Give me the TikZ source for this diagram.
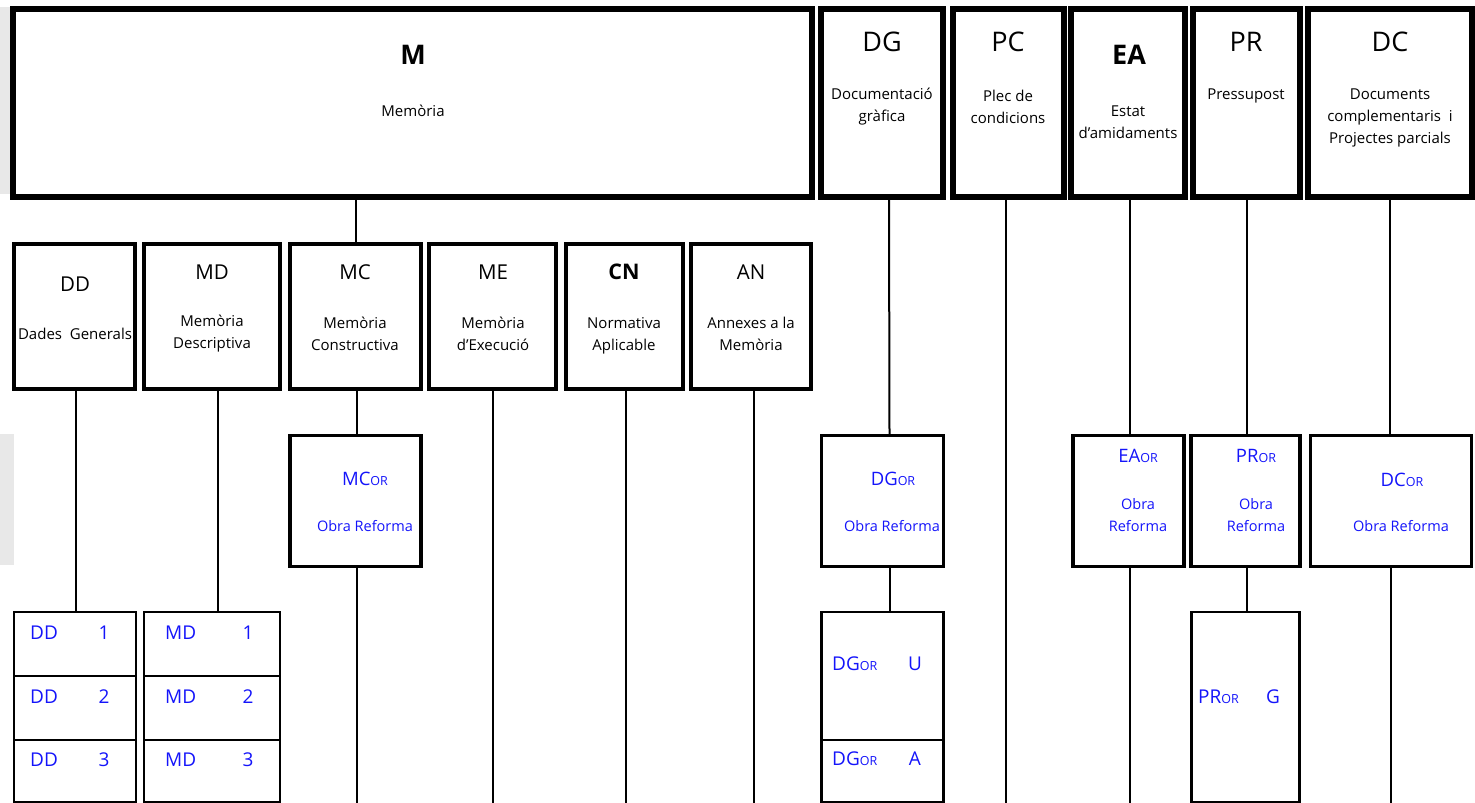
\documentclass[tikz,border=0pt]{standalone}
\usepackage{fontspec}
\setmainfont{Open Sans}
\definecolor{orblue}{RGB}{20,20,250}
\definecolor{sidegray}{RGB}{232,232,232}
\newcommand{\orsub}{{\fontsize{12.5}{13}\selectfont OR}}

\begin{document}
\begin{tikzpicture}[
    x=1pt, y=-1pt,
    topbox/.style={draw=black, line width=5.5pt, inner sep=0pt, minimum height=188pt},
    secbox/.style={draw=black, line width=4pt, inner sep=0pt, minimum height=145pt},
    orbox/.style={draw=black, line width=3.5pt, inner sep=0pt, minimum height=131pt},
    cellbox/.style={draw=black, line width=2.5pt, inner sep=0pt},
    link/.style={line width=2pt},
    toptitle/.style={inner sep=0pt, font=\fontsize{27}{30}\selectfont},
    boldtitle/.style={inner sep=0pt, font=\fontsize{27}{30}\selectfont\bfseries},
    sectitle/.style={inner sep=0pt, font=\fontsize{20.5}{24}\selectfont},
    subtext/.style={inner sep=0pt, align=center, font=\fontsize{15}{22}\selectfont},
    ortitle/.style={inner sep=0pt, text=orblue, font=\fontsize{18.5}{20}\selectfont},
    ortext/.style={inner sep=0pt, align=center, text=orblue, font=\fontsize{14.5}{22}\selectfont},
    celltext/.style={inner sep=0pt, text=orblue, font=\fontsize{19}{20}\selectfont}
]
\useasboundingbox (0,0) rectangle (1475,803);
\coordinate (bot) at (0,803);

% side marks
\fill[sidegray] (0,7) rectangle (12,194);
\fill[sidegray] (0,434) rectangle (14,565);

% top row
\node[topbox, minimum width=799pt] (M) at (412.5,103) {};
\node[topbox, minimum width=122pt] (DG) at (882,103) {};
\node[topbox, minimum width=111pt] (PC) at (1008.5,103) {};
\node[topbox, minimum width=114pt] (EA) at (1128,103) {};
\node[topbox, minimum width=107pt] (PR) at (1246.5,103) {};
\node[topbox, minimum width=164pt] (DC) at (1390,103) {};

\node[boldtitle] (Mt) at (413,55) {M};
\node[subtext] (Ms) at (413,111) {Memòria};
\node[toptitle] (DGt) at (882,42) {DG};
\node[subtext] (DGs) at (882,107) {Documentació\\gràfica};
\node[toptitle] (PCt) at (1008,42) {PC};
\node[subtext] (PCs) at (1008,107) {Plec de\\condicions};
\node[boldtitle] (EAt) at (1129,55) {EA};
\node[subtext] (EAs) at (1128,122) {Estat\\d’amidaments};
\node[toptitle] (PRt) at (1246,42) {PR};
\node[subtext] (PRs) at (1246,96) {Pressupost};
\node[toptitle] (DCt) at (1390,42) {DC};
\node[subtext] (DCs) at (1390,118) {Documents\\complementaris\ \ i\\Projectes parcials};

% second row
\node[secbox, minimum width=121pt] (DD) at (74.5,316.5) {};
\node[secbox, minimum width=136pt] (MD) at (212,316.5) {};
\node[secbox, minimum width=131pt] (MC) at (355.5,316.5) {};
\node[secbox, minimum width=127pt] (ME) at (492.5,316.5) {};
\node[secbox, minimum width=117pt] (CN) at (624.5,316.5) {};
\node[secbox, minimum width=120pt] (AN) at (751,316.5) {};

\node[sectitle] (DDt) at (75,284) {DD};
\node[subtext] (DDs) at (75,334) {Dades\ \ Generals};
\node[sectitle] (MDt) at (212,272) {MD};
\node[subtext] (MDs) at (212,334) {Memòria\\Descriptiva};
\node[sectitle] (MCt) at (355,272) {MC};
\node[subtext] (MCs) at (355,334) {Memòria\\Constructiva};
\node[sectitle] (MEt) at (493,272) {ME};
\node[subtext] (MEs) at (493,334) {Memòria\\d’Execució};
\node[sectitle, font=\fontsize{21.5}{24}\selectfont\bfseries] (CNt) at (624,272) {CN};
\node[subtext] (CNs) at (624,336) {Normativa\\Aplicable};
\node[sectitle] (ANt) at (751,272) {AN};
\node[subtext] (ANs) at (751,334) {Annexes a la\\Memòria};

% third row
\node[orbox, minimum width=131pt] (MCor) at (355.5,501) {};
\node[orbox, minimum width=122pt] (DGor) at (882.5,501) {};
\node[orbox, minimum width=111pt] (EAor) at (1128.5,501) {};
\node[orbox, minimum width=109pt] (PRor) at (1245.5,501) {};
\node[orbox, minimum width=161pt] (DCor) at (1391,501) {};

\node[ortitle] (MCort) at (365,479) {MC\orsub};
\node[ortext] (MCors) at (365,526) {Obra Reforma};
\node[ortitle] (DGort) at (893,479) {DG\orsub};
\node[ortext] (DGors) at (892,526) {Obra Reforma};
\node[ortitle] (EAort) at (1138,456) {EA\orsub};
\node[ortext] (EAors) at (1138,515) {Obra\\Reforma};
\node[ortitle] (PRort) at (1256,456) {PR\orsub};
\node[ortext] (PRors) at (1256,515) {Obra\\Reforma};
\node[ortitle] (DCort) at (1402,480) {DC\orsub};
\node[ortext] (DCors) at (1401,526) {Obra Reforma};

% bottom cells
\foreach \i/\y/\h in {1/644/64, 2/708/64, 3/771/62} {
  \node[cellbox, minimum width=122pt, minimum height=\h pt] (DD\i) at (75,\y) {};
  \node[cellbox, minimum width=136pt, minimum height=\h pt] (MD\i) at (212,\y) {};
}
\foreach \i/\y in {1/633, 2/697, 3/760} {
  \node[celltext, anchor=west] (DDl\i) at (30,\y) {DD};
  \node[celltext] (DDn\i) at (104,\y) {\i};
  \node[celltext, anchor=west] (MDl\i) at (165,\y) {MD};
  \node[celltext] (MDn\i) at (248,\y) {\i};
}
\node[cellbox, minimum width=122pt, minimum height=128pt] (DGU) at (882.5,676) {};
\node[cellbox, minimum width=122pt, minimum height=62pt] (DGA) at (882.5,771) {};
\node[cellbox, minimum width=108pt, minimum height=190pt] (PRG) at (1245.5,707) {};

\node[celltext, anchor=west] (DGUl) at (832,664) {DG\orsub};
\node[celltext] (DGUn) at (915,664) {U};
\node[celltext, anchor=west] (DGAl) at (832,759) {DG\orsub};
\node[celltext] (DGAn) at (915,759) {A};
\node[celltext, anchor=west] (PRGl) at (1198,697) {PR\orsub};
\node[celltext] (PRGn) at (1273,697) {G};

% connectors
\draw[link] (MC.north |- M.south) -- (MC.north);
\draw[link] ([xshift=7pt]DG.south) -- ([xshift=7pt]DGor.north);
\draw[link] ([xshift=-3pt]PC.south) -- ([xshift=-3pt]PC.south |- bot);
\draw[link] ([xshift=2pt]EA.south) -- ([xshift=2pt]EA.south |- EAor.north);
\draw[link] (PR.south) -- (PR.south |- PRor.north);
\draw[link] (DC.south) -- (DC.south |- DCor.north);
\draw[link] ([xshift=1.5pt]DD.south) -- ([xshift=1.5pt]DD.south |- DD1.north);
\draw[link] ([xshift=6pt]MD.south) -- ([xshift=6pt]MD.south |- MD1.north);
\draw[link] ([xshift=1.5pt]MC.south) -- ([xshift=1.5pt]MCor.north);
\draw[link] (ME.south) -- (ME.south |- bot);
\draw[link] ([xshift=1.5pt]CN.south) -- ([xshift=1.5pt]CN.south |- bot);
\draw[link] ([xshift=3pt]AN.south) -- ([xshift=3pt]AN.south |- bot);
\draw[link] ([xshift=1.5pt]MCor.south) -- ([xshift=1.5pt]MCor.south |- bot);
\draw[link] ([xshift=7pt]DGor.south) -- ([xshift=7pt]DGU.north);
\draw[link] ([xshift=1.5pt]EAor.south) -- ([xshift=1.5pt]EAor.south |- bot);
\draw[link] ([xshift=1.5pt]PRor.south) -- ([xshift=1.5pt]PRor.south |- PRG.north);
\draw[link] (DCor.south) -- (DCor.south |- bot);

\end{tikzpicture}
\end{document}
